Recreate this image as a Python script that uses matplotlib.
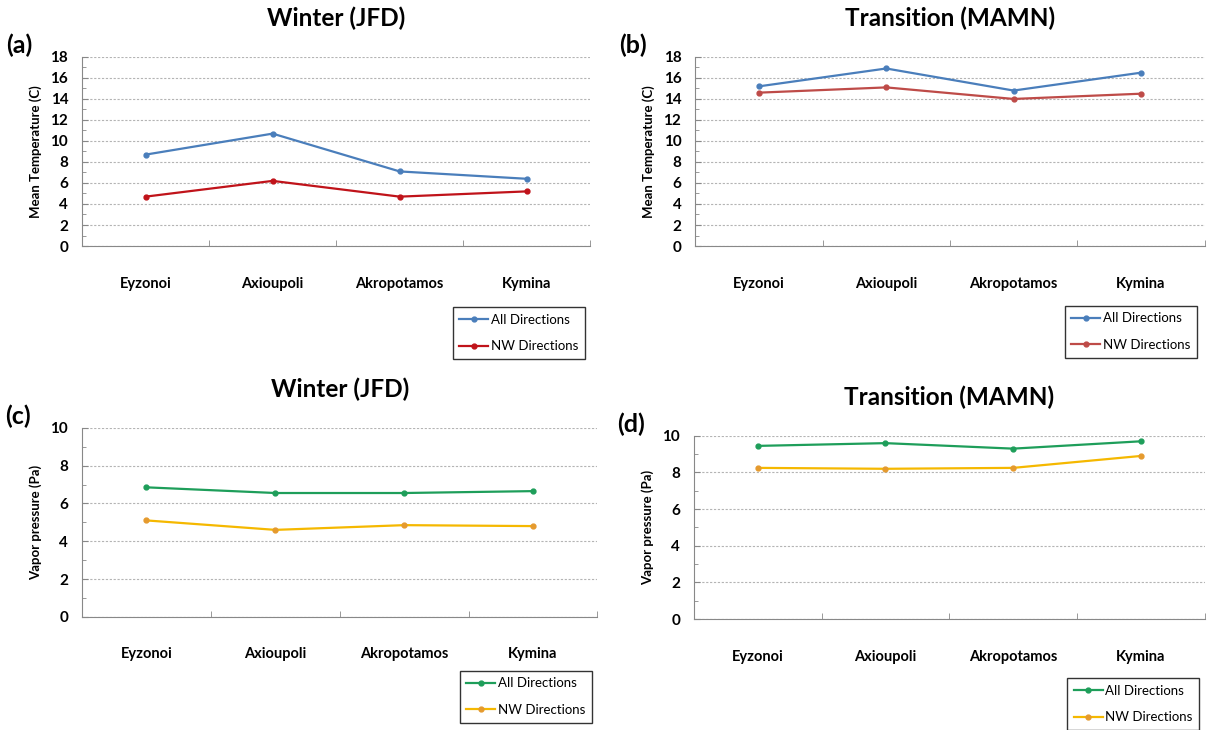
import numpy as np
import matplotlib.pyplot as plt
from matplotlib.ticker import MultipleLocator

plt.rcParams['font.family'] = ['Lato', 'DejaVu Sans']

stations = ["Eyzonoi", "Axioupoli", "Akropotamos", "Kymina"]
series_labels = ["All Directions", "NW Directions"]

# mean temperature (C)
temp_winter_all = [8.7, 10.7, 7.1, 6.4]
temp_winter_nw = [4.7, 6.2, 4.7, 5.2]
temp_trans_all = [15.2, 16.9, 14.8, 16.5]
temp_trans_nw = [14.6, 15.1, 14.0, 14.5]

# vapor pressure (Pa)
vp_winter_all = [6.85, 6.55, 6.55, 6.65]
vp_winter_nw = [5.1, 4.6, 4.85, 4.8]
vp_trans_all = [9.45, 9.6, 9.3, 9.7]
vp_trans_nw = [8.25, 8.2, 8.25, 8.9]

fig = plt.figure(figsize=(12.07, 7.30), dpi=100)

panels = [
    # letter, title, rect, all, nw, colours, ylabel, ymax, step, legend anchor
    ("(a)", "Winter (JFD)", [0.068, 0.663, 0.421, 0.259], temp_winter_all, temp_winter_nw,
     ("#4A7EBB", "#4A7EBB", "#C0131A", "#C0131A"), "Mean Temperature (C)", 18, 2, (0.490, 0.588)),
    ("(b)", "Transition (MAMN)", [0.576, 0.663, 0.422, 0.259], temp_trans_all, temp_trans_nw,
     ("#4A7EBB", "#4A7EBB", "#BE4B48", "#BE4B48"), "Mean Temperature (C)", 18, 2, (0.997, 0.590)),
    ("(c)", "Winter (JFD)", [0.068, 0.155, 0.427, 0.259], vp_winter_all, vp_winter_nw,
     ("#1E9E5A", "#1E9E5A", "#F5B800", "#E59A2E"), "Vapor pressure (Pa)", 10, 2, (0.496, 0.090)),
    ("(d)", "Transition (MAMN)", [0.575, 0.152, 0.423, 0.251], vp_trans_all, vp_trans_nw,
     ("#1E9E5A", "#1E9E5A", "#F5B800", "#E59A2E"), "Vapor pressure (Pa)", 10, 2, (0.999, 0.080)),
]

x = np.arange(len(stations)) + 0.5

for letter, title, rect, all_vals, nw_vals, cols, ylabel, ymax, step, anchor in panels:
    ax = fig.add_axes(rect)
    l1, = ax.plot(x, all_vals, color=cols[0], marker="o", markersize=3.5,
                  markerfacecolor=cols[1], markeredgecolor=cols[1], lw=1.6)
    l2, = ax.plot(x, nw_vals, color=cols[2], marker="o", markersize=3.5,
                  markerfacecolor=cols[3], markeredgecolor=cols[3], lw=1.6)

    ax.set_xlim(0, 4)
    ax.set_ylim(0, ymax)
    ax.yaxis.set_major_locator(MultipleLocator(step))
    ax.yaxis.set_minor_locator(MultipleLocator(step / 2))
    ax.grid(axis="y", which="major", color="#B4B4B4", ls=(0, (2, 1.5)), lw=0.8)
    ax.set_axisbelow(True)

    ax.set_xticks(x)
    ax.set_xticklabels(stations, fontweight="bold", fontsize=10.5)
    ax.set_xticks([1, 2, 3, 4], minor=True)
    ax.tick_params(axis="x", which="major", length=0, pad=22)
    ax.tick_params(axis="x", which="minor", length=4, direction="in", color="#888888")
    ax.tick_params(axis="y", which="major", length=4, direction="in", color="#888888",
                   labelsize=11, pad=10)
    ax.tick_params(axis="y", which="minor", length=3, direction="in", color="#888888")
    for lab in ax.get_yticklabels():
        lab.set_fontweight("bold")

    for side in ("top", "right"):
        ax.spines[side].set_visible(False)
    for side in ("left", "bottom"):
        ax.spines[side].set_color("#888888")

    ax.set_ylabel(ylabel, fontweight="bold", fontsize=9.5, labelpad=6)
    ax.set_title(title, fontweight="bold", fontsize=17.5, pad=22)
    ax.text(-0.15, 1.0, letter, transform=ax.transAxes, fontweight="bold",
            fontsize=18, ha="left", va="bottom")

    fig.legend([l1, l2], series_labels, loc="upper right", bbox_to_anchor=anchor,
               fancybox=False, edgecolor="#333333", framealpha=1, fontsize=9.5,
               labelspacing=1.1, handlelength=2.2, handletextpad=0.2,
               borderpad=0.5)

fig.savefig("out.png", dpi=100)
